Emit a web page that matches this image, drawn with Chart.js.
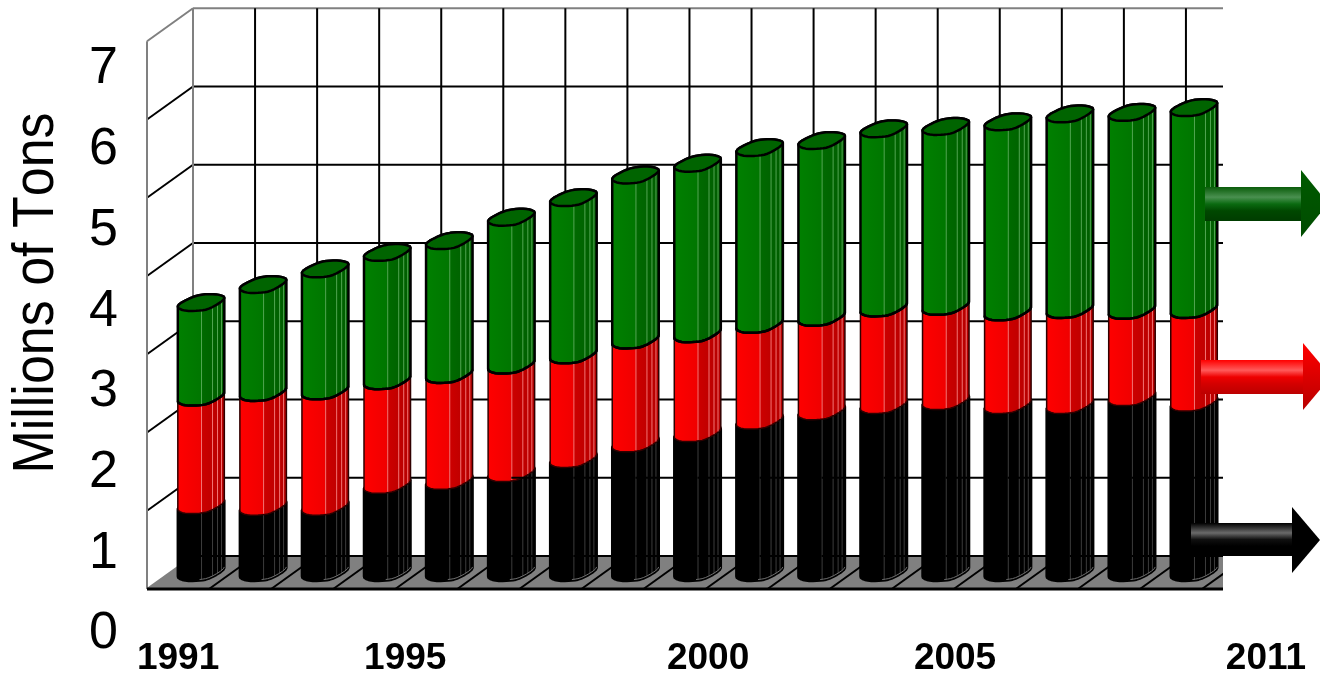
<!DOCTYPE html>
<html>
<head>
<meta charset="utf-8">
<title>Millions of Tons</title>
<script src="https://cdn.jsdelivr.net/npm/chart.js@4"></script>
<style>
    html, body { margin: 0; background: #fff; }
    canvas { display: block; }
</style>
</head>
<body>
<canvas id="chart" width="1320" height="675"></canvas>
<script>
const barSlots = ["1", "2", "3", "4", "5", "6", "7", "8", "9", "10", "11", "12", "13", "14", "15", "16", "17"];
const blackValues = [0.86, 0.84, 0.84, 1.12, 1.17, 1.27, 1.45, 1.65, 1.78, 1.94, 2.06, 2.14, 2.19, 2.14, 2.14, 2.24, 2.17];
const redValues = [1.38, 1.46, 1.48, 1.33, 1.36, 1.38, 1.33, 1.32, 1.27, 1.23, 1.20, 1.24, 1.21, 1.19, 1.22, 1.11, 1.19];
const greenValues = [1.21, 1.38, 1.56, 1.64, 1.71, 1.89, 2.01, 2.11, 2.18, 2.26, 2.26, 2.29, 2.30, 2.43, 2.50, 2.53, 2.58];

const yearLabels = ["1991", "1995", "2000", "2005", "2011"];
const valueTicks = [0, 1, 2, 3, 4, 5, 6, 7];
const axisTitle = "Millions of Tons";

// Year captions sit loosely under the columns, so they get their own axis,
// measured in column slots.
const yearSlots = [-0.37, 3.29, 8.17, 12.15, 17.16];

const FONT = '"Liberation Sans", Arial, sans-serif';

// Plot box. Chart.js scales describe the plane through the column centres;
// the walls and floor are offset from it by half the depth either way.
const AREA_TOP = 5;
const AREA_BOTTOM = 640;
const AREA_LEFT = 170;
const ZERO_Y = 572.5;
const UNIT_PX = 78.25;
const LABEL_ZERO_Y = 634;
const LABEL_UNIT_PX = 80.7;
const DEPTH_X = 23;
const DEPTH_Y = 16.5;
const CLIP_RIGHT = 1223;
const COLUMN_WIDTH = 48;

// Cross-section of a column around (0, 0): a coarse loop, corners cut twice.
let ring = [
    { x: -25.6, y: 3.3 }, { x: -18.3, y: 8.4 }, { x: -2.7, y: 8.4 }, { x: 9, y: 6.4 },
    { x: 26, y: -4.5 }, { x: 17.3, y: -8.4 }, { x: 2.3, y: -8.4 }, { x: -9.3, y: -5.5 },
];
for (let pass = 0; pass < 2; pass++) {
    ring = ring.flatMap((p, i) => {
        const q = ring[(i + 1) % ring.length];
        return [
            { x: 0.75 * p.x + 0.25 * q.x, y: 0.75 * p.y + 0.25 * q.y },
            { x: 0.25 * p.x + 0.75 * q.x, y: 0.25 * p.y + 0.75 * q.y },
        ];
    });
}
const xs = ring.map(p => p.x);
const leftIndex = xs.indexOf(Math.min(...xs));
const rightIndex = xs.indexOf(Math.max(...xs));
const walk = (from, to) => {
    const out = [ring[from]];
    for (let i = from; i !== to; out.push(ring[i])) i = (i + 1) % ring.length;
    return out;
};
const ringLower = walk(leftIndex, rightIndex);
const ringUpper = walk(rightIndex, leftIndex);

function lowerEdgeY(dx) {
    for (let i = 1; i < ringLower.length; i++) {
        const a = ringLower[i - 1], b = ringLower[i];
        if (dx <= b.x) return a.y + (b.y - a.y) * (dx - a.x) / (b.x - a.x);
    }
    return ringLower[ringLower.length - 1].y;
}

// Facet lines and side shading across the column width (0 = left, 1 = right).
const FACETS = [0.5, 0.72, 0.83, 0.92];
const SHADES = {
    black: { stops: ["#000000", "#000000", "#000000", "#000000"], facet: "#3c3c3c", edge: "#000", edgeWidth: 2.5 },
    red:   { stops: ["#ff0000", "#f00000", "#cc0000", "#b40000"], facet: "#f27474", edge: "#300000", edgeWidth: 1.5 },
    green: { stops: ["#008000", "#007600", "#006a00", "#005c00"], facet: "#52a552", edge: "#000", edgeWidth: 2.5 },
};

function sideFill(ctx, cx, stops) {
    const g = ctx.createLinearGradient(cx - COLUMN_WIDTH / 2, 0, cx + COLUMN_WIDTH / 2, 0);
    g.addColorStop(0, stops[0]);
    g.addColorStop(0.5, stops[1]);
    g.addColorStop(0.52, stops[2]);
    g.addColorStop(1, stops[3]);
    return g;
}

function drawSegment(ctx, el, shade) {
    const cx = el.x;
    ctx.beginPath();
    ringUpper.forEach((p, i) => {
        if (i === 0) ctx.moveTo(cx + p.x, el.y + p.y);
        else ctx.lineTo(cx + p.x, el.y + p.y);
    });
    for (const p of ringLower) ctx.lineTo(cx + p.x, el.base + p.y);
    ctx.closePath();
    ctx.fillStyle = sideFill(ctx, cx, shade.stops);
    ctx.fill();
    ctx.strokeStyle = shade.edge;
    ctx.lineWidth = shade.edgeWidth;
    ctx.lineJoin = "round";
    ctx.stroke();

    ctx.strokeStyle = shade.facet;
    ctx.lineWidth = 1;
    for (const f of FACETS) {
        const dx = Math.round(COLUMN_WIDTH * (f - 0.5));
        const off = lowerEdgeY(dx);
        ctx.beginPath();
        ctx.moveTo(cx + dx + 0.5, el.y + off);
        ctx.lineTo(cx + dx + 0.5, el.base + off - 1);
        ctx.stroke();
    }
}

// Dark line along the front of a segment's upper end.
function drawFrontEdge(ctx, el) {
    ctx.beginPath();
    ringLower.forEach((p, i) => {
        if (i === 0) ctx.moveTo(el.x + p.x, el.y + p.y);
        else ctx.lineTo(el.x + p.x, el.y + p.y);
    });
    ctx.strokeStyle = "#000";
    ctx.lineWidth = 2.5;
    ctx.stroke();
}

function drawCap(ctx, el) {
    ctx.beginPath();
    [...ringLower, ...ringUpper].forEach((p, i) => {
        if (i === 0) ctx.moveTo(el.x + p.x, el.y + p.y);
        else ctx.lineTo(el.x + p.x, el.y + p.y);
    });
    ctx.closePath();
    ctx.fillStyle = "#006400";
    ctx.fill();
    ctx.strokeStyle = "#000";
    ctx.lineWidth = 2.5;
    ctx.lineJoin = "round";
    ctx.stroke();
}

function line(ctx, x1, y1, x2, y2, color, width) {
    ctx.beginPath();
    ctx.moveTo(x1, y1);
    ctx.lineTo(x2, y2);
    ctx.strokeStyle = color;
    ctx.lineWidth = width;
    ctx.stroke();
}

// Tick labels may hang past the ends of an axis; keep the scale from shrinking for them.
function fixAxisBox(s, size) {
    if (s.isHorizontal()) s.height = size;
    else s.width = size;
    s.paddingLeft = s.paddingRight = s.paddingTop = s.paddingBottom = 0;
}

// --- Walls, floor and grid -------------------------------------------------

const boxPlugin = {
    id: "box",
    beforeDatasetsDraw(chart) {
        const { ctx, scales: { x, y } } = chart;
        const slot = x.width / barSlots.length;
        const frontLeft = x.left - DEPTH_X;
        const backLeft = x.left + DEPTH_X;
        const backY = v => y.getPixelForValue(v) - DEPTH_Y;
        const frontY = v => y.getPixelForValue(v) + DEPTH_Y;
        const gray = "#808080";

        ctx.save();
        ctx.beginPath();
        ctx.rect(0, 0, CLIP_RIGHT, chart.height);
        ctx.clip();

        // floor
        ctx.beginPath();
        ctx.moveTo(frontLeft, frontY(0));
        ctx.lineTo(backLeft, backY(0));
        ctx.lineTo(CLIP_RIGHT, backY(0));
        ctx.lineTo(CLIP_RIGHT, frontY(0));
        ctx.closePath();
        ctx.fillStyle = gray;
        ctx.fill();

        // value lines along the left wall and the back wall
        const top = valueTicks[valueTicks.length - 1];
        for (const v of valueTicks) {
            const c = v === top ? gray : "#000";
            if (v > 0) line(ctx, frontLeft, frontY(v), backLeft, backY(v), c, 2);
            line(ctx, backLeft, backY(v), CLIP_RIGHT, backY(v), c, 2);
        }

        // slot lines up the back wall and across the floor
        for (let i = 1; i <= barSlots.length; i++) {
            const fx = frontLeft + i * slot;
            line(ctx, fx + 2 * DEPTH_X, backY(0), fx + 2 * DEPTH_X, backY(top), "#000", 2);
            line(ctx, fx, frontY(0), fx + 2 * DEPTH_X, backY(0), "#000", 2);
        }

        line(ctx, frontLeft, frontY(0), frontLeft, frontY(top), gray, 2);
        line(ctx, backLeft, backY(0), backLeft, backY(top), gray, 2);
        line(ctx, frontLeft, frontY(0), backLeft, backY(0), gray, 2);
        line(ctx, frontLeft, frontY(0), CLIP_RIGHT, frontY(0), "#000", 3);
        ctx.restore();
    },
    // the columns replace the flat bars, drawn bottom segment first
    beforeDatasetDraw() {
        return false;
    },
    afterDatasetsDraw(chart) {
        const { ctx, scales: { y } } = chart;
        ctx.save();
        const names = ["black", "red", "green"];
        names.forEach((name, i) => {
            for (const el of chart.getDatasetMeta(i).data) drawSegment(ctx, el, SHADES[name]);
        });
        for (const el of chart.getDatasetMeta(names.length - 1).data) drawCap(ctx, el);
        // the green segments sit on a dark seam
        for (const el of chart.getDatasetMeta(1).data) drawFrontEdge(ctx, el);

        for (const el of chart.getDatasetMeta(0).data) {
            // back wall grid shows through the facet lines of the dark segment
            for (const v of valueTicks) {
                const gy = y.getPixelForValue(v) - DEPTH_Y;
                if (gy > el.y + 4 && gy < el.base) line(ctx, el.x, gy, el.x + COLUMN_WIDTH / 2, gy, "#000", 2);
            }
            // pale rim along the foot of each column
            ctx.beginPath();
            ringLower.slice(Math.floor(ringLower.length / 2)).forEach((p, i) => {
                if (i === 0) ctx.moveTo(el.x + p.x, el.base + p.y - 1);
                else ctx.lineTo(el.x + p.x, el.base + p.y - 1);
            });
            ctx.strokeStyle = "#6e6e6e";
            ctx.lineWidth = 1;
            ctx.stroke();
        }
        ctx.restore();
    },
    afterDraw(chart) {
        const { ctx } = chart;
        // axis title, a little stretched across its height
        ctx.save();
        ctx.translate(53, 293);
        ctx.rotate(-Math.PI / 2);
        ctx.scale(1, 1.1);
        ctx.font = "52px " + FONT;
        ctx.fontKerning = "none";
        ctx.fillStyle = "#000";
        ctx.textAlign = "center";
        ctx.textBaseline = "alphabetic";
        ctx.fillText(axisTitle, 0, 0);
        ctx.restore();

        drawArrow(ctx, { left: 1205, right: 1301, top: 187, bottom: 221, headTop: 170, headBottom: 237, tip: 1328 },
            ["#0a5c0a", "#4a9050", "#0a6a10", "#004800", "#003c00"], ["#005a00", "#004c00"]);
        drawArrow(ctx, { left: 1201, right: 1303, top: 360, bottom: 394, headTop: 343, headBottom: 410, tip: 1331 },
            ["#ff0000", "#ff5a5a", "#ee0000", "#d40000", "#bc0000"], ["#ff0000", "#b80000"]);
        drawArrow(ctx, { left: 1191, right: 1292, top: 523, bottom: 556, headTop: 507, headBottom: 573, tip: 1320 },
            ["#000000", "#6a6a6a", "#101010", "#000000", "#000000"], ["#000000", "#000000"]);
    },
};

// Key arrows at the right edge: a lit shaft and a plain head.
function drawArrow(ctx, a, shaft, head) {
    const s = ctx.createLinearGradient(0, a.top, 0, a.bottom);
    s.addColorStop(0, shaft[0]);
    s.addColorStop(0.3, shaft[1]);
    s.addColorStop(0.5, shaft[2]);
    s.addColorStop(0.7, shaft[3]);
    s.addColorStop(1, shaft[4]);
    ctx.fillStyle = s;
    ctx.fillRect(a.left, a.top, a.right - a.left + 1, a.bottom - a.top);

    const h = ctx.createLinearGradient(0, a.headTop, 0, a.headBottom);
    h.addColorStop(0, head[0]);
    h.addColorStop(1, head[1]);
    ctx.fillStyle = h;
    ctx.beginPath();
    ctx.moveTo(a.right, a.headTop);
    ctx.lineTo(a.tip, (a.headTop + a.headBottom) / 2);
    ctx.lineTo(a.right, a.headBottom);
    ctx.closePath();
    ctx.fill();
}

// --- Chart -----------------------------------------------------------------

const barDataset = (label, data, color) => ({
    label, data, backgroundColor: color, barThickness: COLUMN_WIDTH,
});

new Chart(document.getElementById("chart"), {
    type: "bar",
    data: {
        labels: barSlots,
        datasets: [
            barDataset("Bottom", blackValues, "#000000"),
            barDataset("Middle", redValues, "#ff0000"),
            barDataset("Top", greenValues, "#008000"),
        ],
    },
    options: {
        responsive: false,
        animation: false,
        layout: { padding: { top: AREA_TOP, right: 95, bottom: 0, left: 0 } },
        plugins: { legend: { display: false }, tooltip: { enabled: false } },
        scales: {
            x: { display: false, stacked: true },
            y: {
                display: false,
                stacked: true,
                min: (ZERO_Y - AREA_BOTTOM) / UNIT_PX,
                max: (ZERO_Y - AREA_TOP) / UNIT_PX,
            },
            yearAxis: {
                type: "linear",
                axis: "x",
                position: "bottom",
                offset: false,
                min: -0.5,
                max: barSlots.length - 0.5,
                grid: { display: false, drawTicks: false },
                border: { display: false },
                afterBuildTicks: s => { s.ticks = yearSlots.map(value => ({ value })); },
                afterFit: s => fixAxisBox(s, 675 - AREA_BOTTOM),
                ticks: {
                    autoSkip: false,
                    maxRotation: 0,
                    padding: -3,
                    color: "#000",
                    font: { family: FONT, size: 37, weight: "bold" },
                    callback: (value, i) => yearLabels[i],
                },
            },
            valueAxis: {
                type: "linear",
                axis: "y",
                position: "left",
                min: (LABEL_ZERO_Y - AREA_BOTTOM) / LABEL_UNIT_PX,
                max: (LABEL_ZERO_Y - AREA_TOP) / LABEL_UNIT_PX,
                grid: { display: false, drawTicks: false },
                border: { display: false },
                afterBuildTicks: s => { s.ticks = valueTicks.map(value => ({ value })); },
                afterFit: s => fixAxisBox(s, AREA_LEFT),
                ticks: {
                    padding: 52,
                    color: "#000",
                    font: { family: FONT, size: 52 },
                    callback: value => String(value),
                },
            },
        },
    },
    plugins: [boxPlugin],
});
</script>
</body>
</html>
